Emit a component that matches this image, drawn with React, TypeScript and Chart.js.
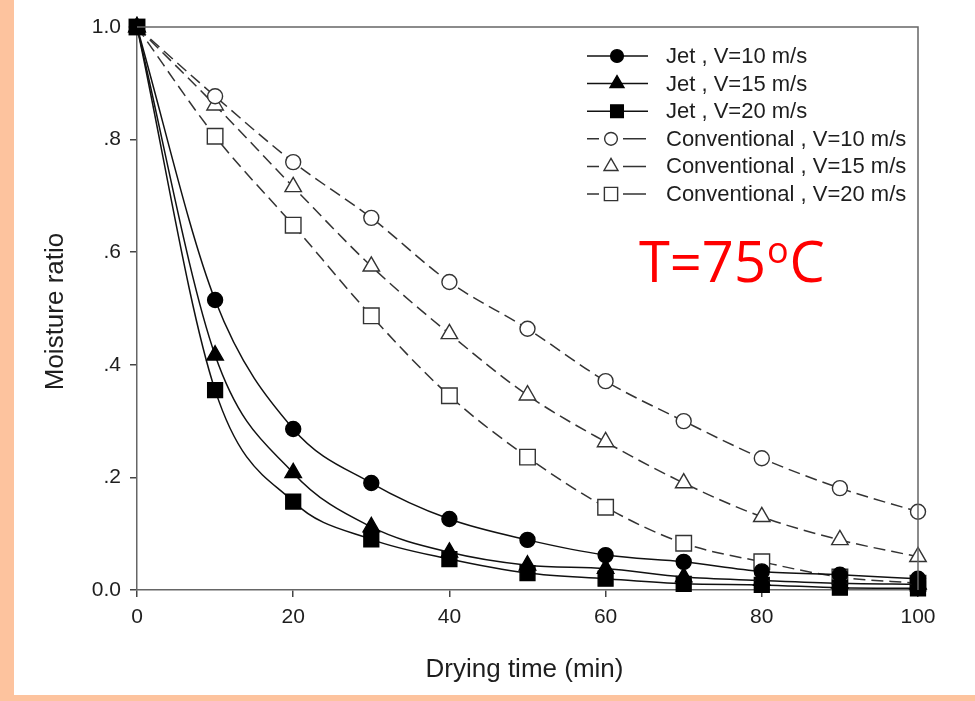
import React, { useEffect, useRef } from "react";
import { Chart, registerables } from "chart.js";

Chart.register(...registerables);

// ---- data ----
const times = [0, 10, 20, 30, 40, 50, 60, 70, 80, 90, 100];
const jet10 = [1.0, 0.515, 0.286, 0.19, 0.126, 0.089, 0.062, 0.05, 0.033, 0.027, 0.02];
const jet15 = [1.0, 0.417, 0.208, 0.112, 0.067, 0.044, 0.038, 0.023, 0.017, 0.012, 0.01];
const jet20 = [1.0, 0.355, 0.157, 0.09, 0.055, 0.03, 0.02, 0.011, 0.009, 0.004, 0.003];
const conv10 = [1.0, 0.877, 0.76, 0.661, 0.547, 0.464, 0.371, 0.3, 0.234, 0.181, 0.139];
const conv15 = [1.0, 0.861, 0.716, 0.575, 0.455, 0.346, 0.263, 0.19, 0.13, 0.089, 0.059];
const conv20 = [1.0, 0.806, 0.648, 0.487, 0.345, 0.236, 0.147, 0.083, 0.05, 0.023, 0.012];
const seriesLabels = [
  "Jet , V=10 m/s",
  "Jet , V=15 m/s",
  "Jet , V=20 m/s",
  "Conventional , V=10 m/s",
  "Conventional , V=15 m/s",
  "Conventional , V=20 m/s",
];
const xTitle = "Drying time (min)";
const yTitle = "Moisture ratio";
const xMin = 0, xMax = 100, xStep = 20;
const yMin = 0, yMax = 1, yStep = 0.2;

const FONT = "'Liberation Sans', Arial, sans-serif";
const TEXT = "#1e1e1e";
const PEACH = "#FDC39E";

type Style = { shape: "circle" | "triangle" | "rect"; filled: boolean; r: number };
const styles: Style[] = [
  { shape: "circle", filled: true, r: 7.5 },
  { shape: "triangle", filled: true, r: 9.5 },
  { shape: "rect", filled: true, r: 10.5 },
  { shape: "circle", filled: false, r: 7.5 },
  { shape: "triangle", filled: false, r: 9.5 },
  { shape: "rect", filled: false, r: 11 },
];

function drawMarker(ctx: CanvasRenderingContext2D, s: Style, x: number, y: number, r: number) {
  ctx.save();
  ctx.beginPath();
  if (s.shape === "circle") {
    ctx.arc(x, y, r, 0, Math.PI * 2);
  } else if (s.shape === "triangle") {
    ctx.moveTo(x, y - r);
    ctx.lineTo(x + r * Math.sin((2 * Math.PI) / 3), y - r * Math.cos((2 * Math.PI) / 3));
    ctx.lineTo(x + r * Math.sin((4 * Math.PI) / 3), y - r * Math.cos((4 * Math.PI) / 3));
    ctx.closePath();
  } else {
    const h = Math.SQRT1_2 * r;
    ctx.rect(x - h, y - h, 2 * h, 2 * h);
  }
  ctx.fillStyle = s.filled ? "#000" : "#fff";
  ctx.fill();
  ctx.lineWidth = 1.4;
  ctx.strokeStyle = s.filled ? "#000" : "#333";
  ctx.stroke();
  ctx.restore();
}

const backgroundPlugin = {
  id: "pageBg",
  beforeDraw(chart: any) {
    const ctx = chart.ctx as CanvasRenderingContext2D;
    ctx.save();
    ctx.fillStyle = PEACH;
    ctx.fillRect(0, 0, chart.width, chart.height);
    ctx.fillStyle = "#fff";
    ctx.fillRect(14, 0, chart.width - 14, 695);
    ctx.restore();
  },
};

const framePlugin = {
  id: "frameAndText",
  afterDraw(chart: any) {
    const ctx = chart.ctx as CanvasRenderingContext2D;
    const a = chart.chartArea;
    ctx.save();
    // top and right frame lines
    ctx.strokeStyle = "#666";
    ctx.lineWidth = 1.5;
    ctx.beginPath();
    ctx.moveTo(a.left, a.top);
    ctx.lineTo(a.right, a.top);
    ctx.lineTo(a.right, a.bottom);
    ctx.stroke();

    // axis titles
    ctx.fillStyle = TEXT;
    ctx.font = `26px ${FONT}`;
    ctx.textAlign = "center";
    ctx.textBaseline = "alphabetic";
    ctx.fillText(xTitle, (a.left + a.right) / 2 - 3, 677);
    ctx.save();
    ctx.translate(63, (a.top + a.bottom) / 2 + 3);
    ctx.rotate(-Math.PI / 2);
    ctx.fillText(yTitle, 0, 0);
    ctx.restore();

    // legend
    const lx0 = 587, lx1 = 648, tx = 666;
    ctx.font = `22px ${FONT}`;
    ctx.textAlign = "left";
    ctx.textBaseline = "middle";
    for (let i = 0; i < seriesLabels.length; i++) {
      const y = 56 + i * 27.6;
      const s = styles[i];
      ctx.save();
      ctx.lineWidth = 1.5;
      ctx.strokeStyle = s.filled ? "#111" : "#333";
      ctx.beginPath();
      let mx = 617;
      if (s.filled) {
        ctx.moveTo(lx0, y);
        ctx.lineTo(lx1, y);
      } else {
        mx = 611;
        ctx.moveTo(lx0, y);
        ctx.lineTo(lx0 + 12, y);
        ctx.moveTo(mx + 12, y);
        ctx.lineTo(lx1 - 2, y);
      }
      ctx.stroke();
      ctx.restore();
      drawMarker(ctx, s, mx, y, s.r * 0.85);
      ctx.fillStyle = TEXT;
      ctx.fillText(seriesLabels[i], tx, y + 1);
    }

    // temperature annotation
    ctx.fillStyle = "#ff0000";
    ctx.textBaseline = "alphabetic";
    ctx.textAlign = "left";
    const big = `56px 'Open Sans', sans-serif`;
    const small = `36px 'Open Sans', sans-serif`;
    let x = 639;
    const base = 282;
    ctx.font = big;
    ctx.fillText("T=75", x, base);
    x += ctx.measureText("T=75").width + 1;
    ctx.font = small;
    ctx.fillText("o", x, base - 19);
    x += ctx.measureText("o").width + 1;
    ctx.font = big;
    ctx.fillText("C", x, base);
    ctx.restore();
  },
};

function makeDataset(label: string, values: number[], i: number) {
  const s = styles[i];
  return {
    label,
    data: times.map((t, k) => ({ x: t, y: values[k] })),
    borderColor: s.filled ? "#111" : "#333",
    borderWidth: 1.5,
    borderDash: s.filled ? [] : [12, 6],
    pointStyle: s.shape,
    pointRadius: s.r,
    pointHoverRadius: s.r,
    pointBackgroundColor: s.filled ? "#000" : "#fff",
    pointBorderColor: s.filled ? "#000" : "#333",
    pointBorderWidth: 1.4,
    cubicInterpolationMode: "monotone" as const,
    fill: false,
    clip: false as const,
  };
}

export default function App() {
  const ref = useRef<HTMLCanvasElement | null>(null);
  useEffect(() => {
    if (!ref.current) return;
    const all = [jet10, jet15, jet20, conv10, conv15, conv20];
    const chart = new Chart(ref.current, {
      type: "line",
      data: {
        datasets: all.map((v, i) => makeDataset(seriesLabels[i], v, i)),
      },
      options: {
        responsive: false,
        animation: false,
        devicePixelRatio: 1,
        layout: { padding: { left: 0, right: 57, top: 27, bottom: 0 } },
        plugins: {
          legend: { display: false },
          tooltip: { enabled: false },
        },
        scales: {
          x: {
            type: "linear",
            min: xMin,
            max: xMax,
            afterFit(scale: any) {
              scale.height = 111;
            },
            ticks: {
              stepSize: xStep,
              color: TEXT,
              font: { family: FONT, size: 21 },
              padding: 8,
              maxRotation: 0,
            },
            grid: {
              drawOnChartArea: false,
              drawTicks: true,
              tickLength: 7,
              color: "#444",
              lineWidth: 1.5,
            },
            border: { display: true, color: "#666", width: 1.5 },
          },
          y: {
            type: "linear",
            min: yMin,
            max: yMax,
            afterFit(scale: any) {
              scale.width = 137;
            },
            ticks: {
              stepSize: yStep,
              color: TEXT,
              font: { family: FONT, size: 21 },
              padding: 9,
              callback: (v: any) => {
                const n = Math.round(Number(v) * 10) / 10;
                if (n === 0) return "0.0";
                if (n === 1) return "1.0";
                return "." + Math.round(n * 10);
              },
            },
            grid: {
              drawOnChartArea: false,
              drawTicks: true,
              tickLength: 7,
              color: "#444",
              lineWidth: 1.5,
            },
            border: { display: true, color: "#666", width: 1.5 },
          },
        },
      },
      plugins: [backgroundPlugin, framePlugin],
    });
    return () => chart.destroy();
  }, []);
  return (
    <div style={{ position: "fixed", left: 0, top: 0, width: 975, height: 701 }}>
      <canvas ref={ref} width={975} height={701} style={{ width: 975, height: 701, display: "block" }} />
    </div>
  );
}
